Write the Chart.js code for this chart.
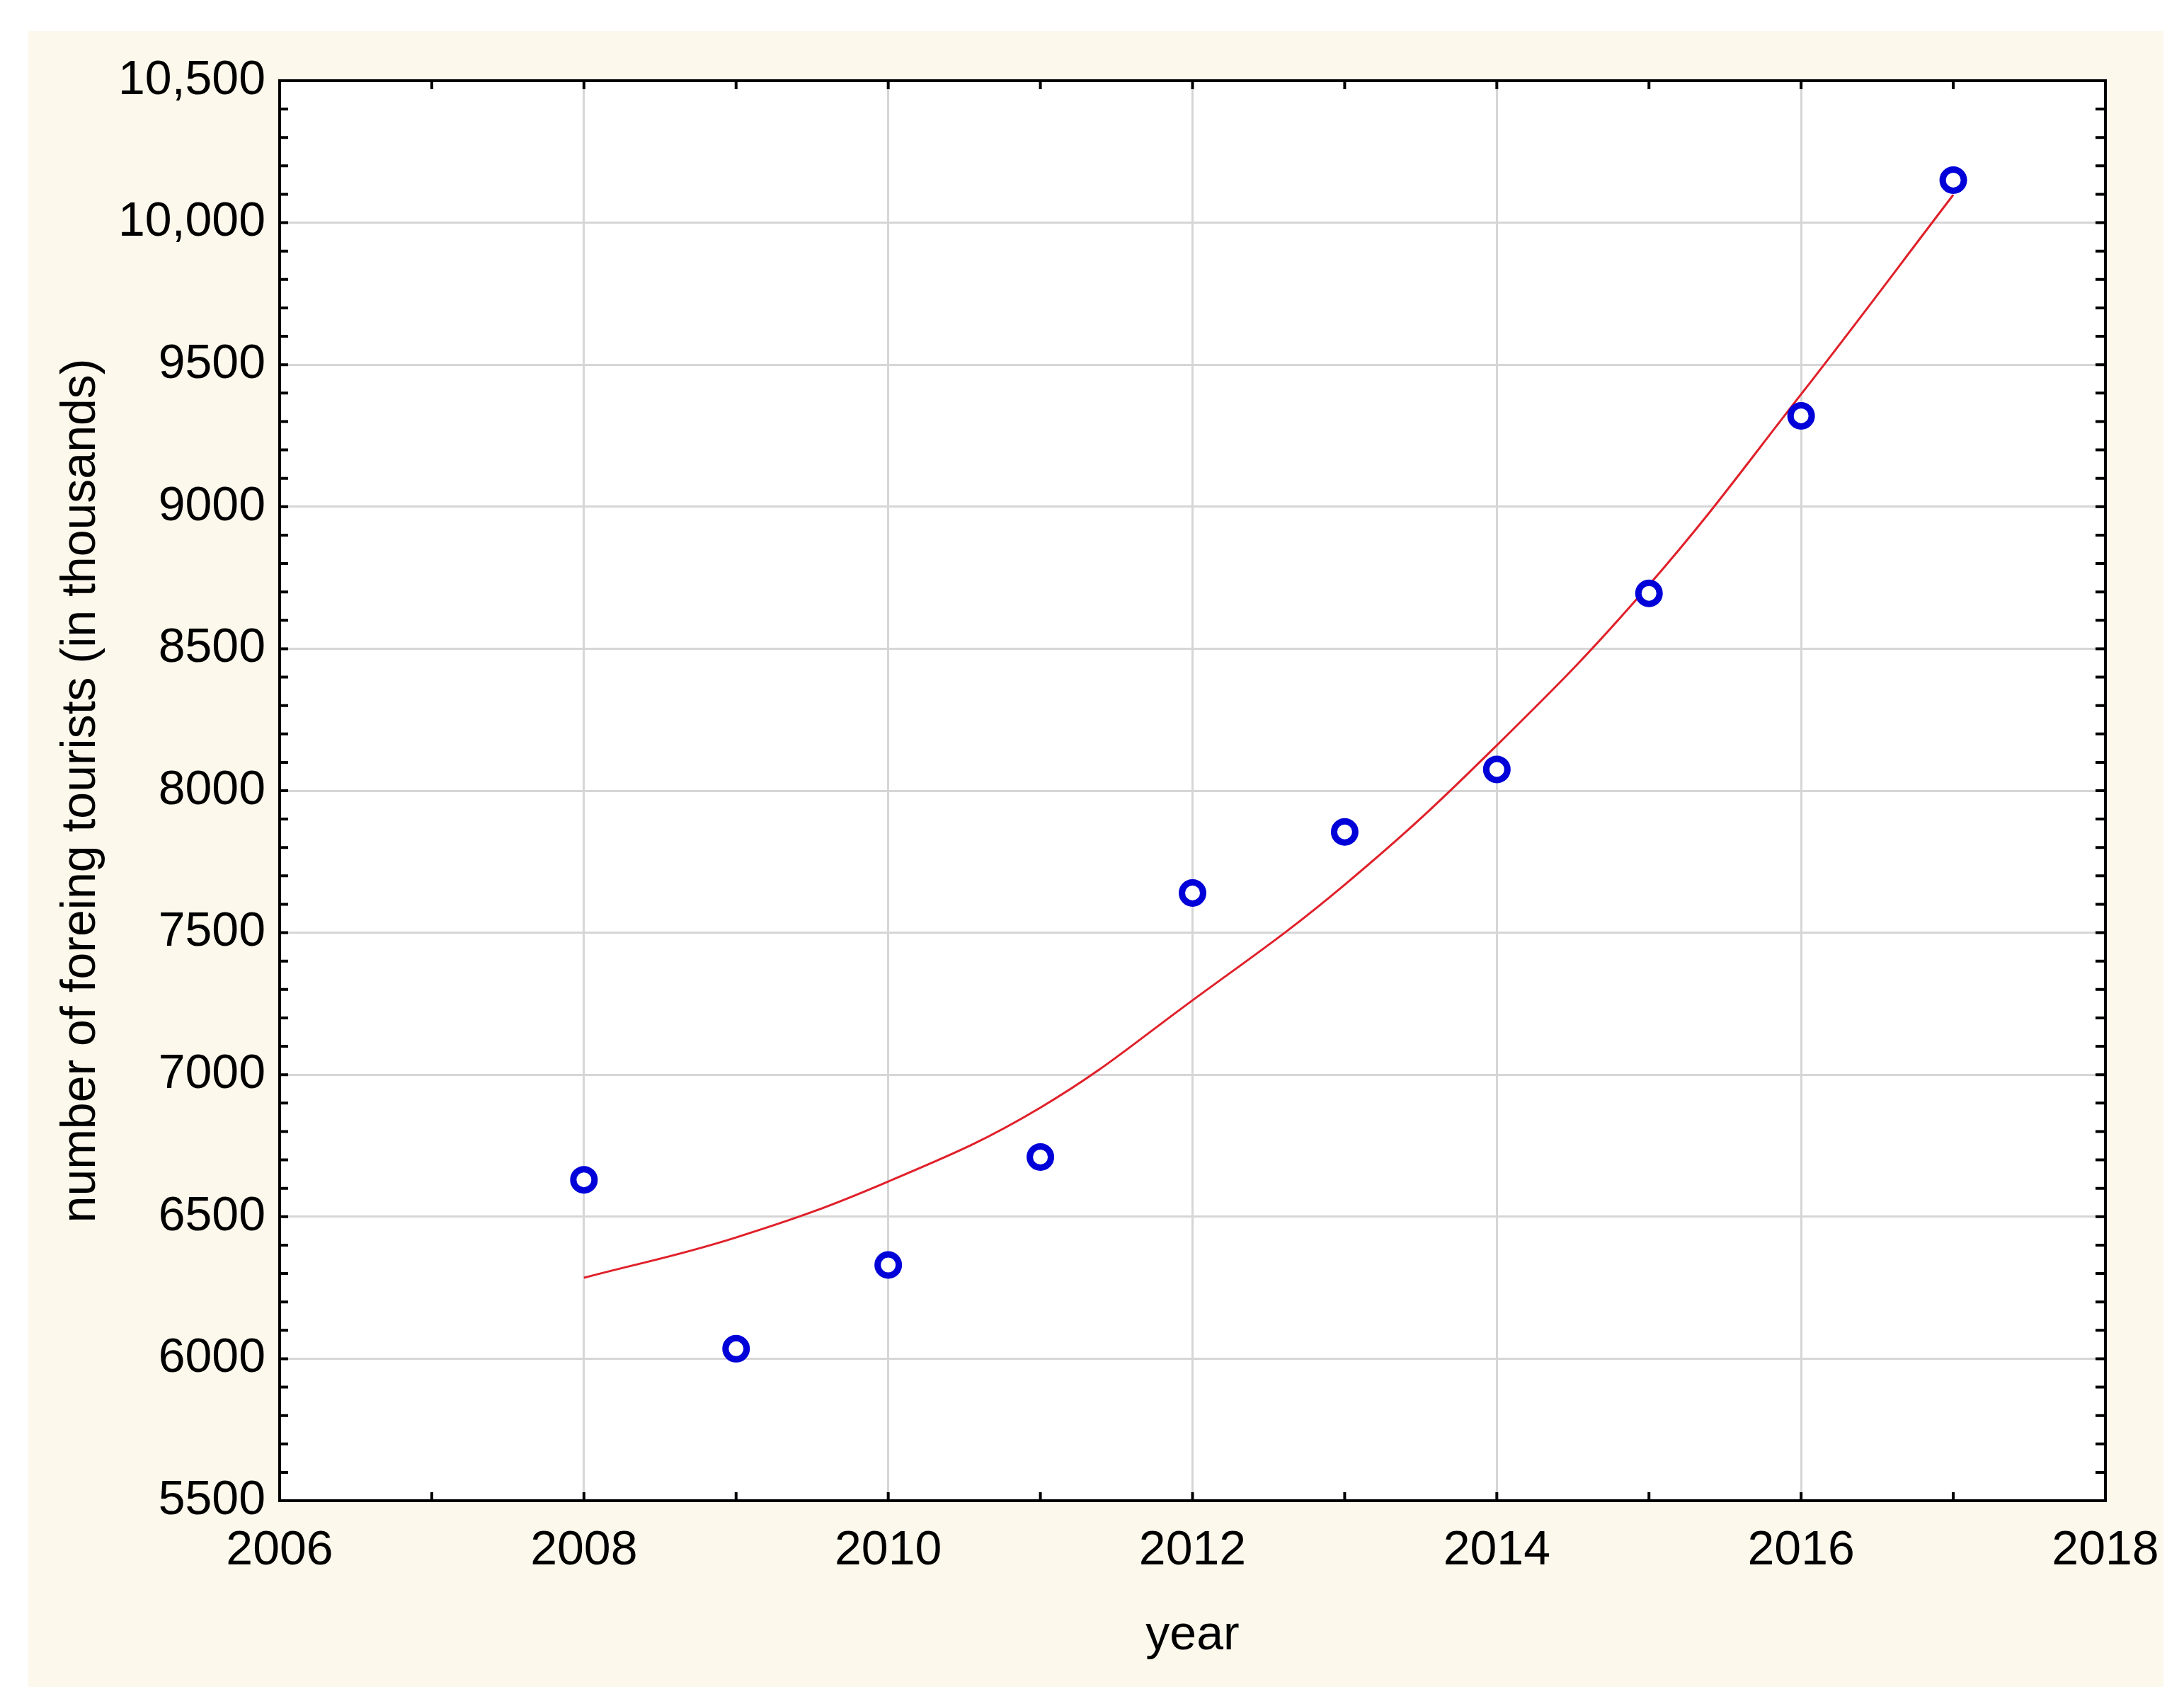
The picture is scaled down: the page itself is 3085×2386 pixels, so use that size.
<!DOCTYPE html>
<html>
<head>
<meta charset="utf-8">
<script src="https://cdn.jsdelivr.net/npm/chart.js@4/dist/chart.umd.min.js"></script>
<style>
  html, body { margin: 0; padding: 0; background: #ffffff; }
  #wrap { width: 3085px; height: 2386px; }
</style>
</head>
<body>
<div id="wrap"><canvas id="c"></canvas></div>
<script>
// observed data
const years = [2008, 2009, 2010, 2011, 2012, 2013, 2014, 2015, 2016, 2017];
const tourists = [6630, 6035, 6330, 6710, 7640, 7855, 8075, 8695, 9320, 10150];
// fitted curve
const trend = [6285, 6427, 6624, 6884, 7262, 7669, 8160, 8724, 9396, 10098];

const xMin = 2006, xMax = 2018;
const yMin = 5500, yMax = 10500;

// cream panel + box + inward minor ticks
const frame = {
  id: 'frame',
  beforeDraw(chart) {
    const ctx = chart.ctx;
    ctx.save();
    ctx.fillStyle = '#fdf8ec';
    ctx.fillRect(40, 44, 3016, 2339);
    const a = chart.chartArea;
    ctx.fillStyle = '#ffffff';
    ctx.fillRect(a.left, a.top, a.right - a.left, a.bottom - a.top);
    ctx.restore();
  },
  afterDraw(chart) {
    const ctx = chart.ctx, a = chart.chartArea;
    const xs = chart.scales.x, ys = chart.scales.y;
    ctx.save();
    ctx.strokeStyle = '#000';
    ctx.lineWidth = 4;
    ctx.strokeRect(a.left, a.top, a.right - a.left, a.bottom - a.top);
    ctx.beginPath();
    for (let v = xMin + 1; v < xMax; v++) {
      const px = xs.getPixelForValue(v);
      ctx.moveTo(px, a.bottom); ctx.lineTo(px, a.bottom - 12);
      ctx.moveTo(px, a.top); ctx.lineTo(px, a.top + 12);
    }
    for (let v = yMin + 100; v < yMax; v += 100) {
      const py = ys.getPixelForValue(v);
      ctx.moveTo(a.left, py); ctx.lineTo(a.left + 12, py);
      ctx.moveTo(a.right, py); ctx.lineTo(a.right - 14, py);
    }
    ctx.stroke();
    ctx.restore();
  }
};

const font = { family: 'Liberation Sans, Arial, sans-serif', size: 68 };

new Chart(document.getElementById('c'), {
  type: 'scatter',
  data: {
    datasets: [
      {
        type: 'line',
        label: 'fit',
        data: years.map((y, i) => ({ x: y, y: trend[i] })),
        borderColor: '#e0202a',
        borderWidth: 3,
        pointRadius: 0,
        tension: 0.4,
        fill: false,
        order: 2
      },
      {
        label: 'tourists',
        data: years.map((y, i) => ({ x: y, y: tourists[i] })),
        borderColor: '#0000d8',
        backgroundColor: '#ffffff',
        borderWidth: 9,
        pointRadius: 15,
        order: 1
      }
    ]
  },
  options: {
    responsive: true,
    maintainAspectRatio: false,
    animation: false,
    layout: { padding: { left: 70, right: 111, top: 114, bottom: 30 } },
    plugins: { legend: { display: false }, tooltip: { enabled: false } },
    scales: {
      x: {
        type: 'linear',
        min: xMin, max: xMax,
        ticks: { stepSize: 2, color: '#000', font: font, padding: 30,
                 callback: v => String(v) },
        grid: { color: '#d6d6d6', lineWidth: 3, drawTicks: false },
        border: { display: false },
        title: { display: true, text: 'year', color: '#000', font: font, padding: { top: 36 } },
        afterFit: s => { s.height = 236; }
      },
      y: {
        min: yMin, max: yMax,
        ticks: { stepSize: 500, color: '#000', font: font, padding: 20,
                 callback: v => v >= 10000 ? v.toLocaleString('en-US') : String(v) },
        grid: { color: '#d6d6d6', lineWidth: 3, drawTicks: false },
        border: { display: false },
        title: { display: true, text: 'number of foreing tourists (in thousands)', color: '#000', font: font, padding: { bottom: 20 } },
        afterFit: s => { s.width = 325; }
      }
    }
  },
  plugins: [frame]
});
</script>
</body>
</html>
